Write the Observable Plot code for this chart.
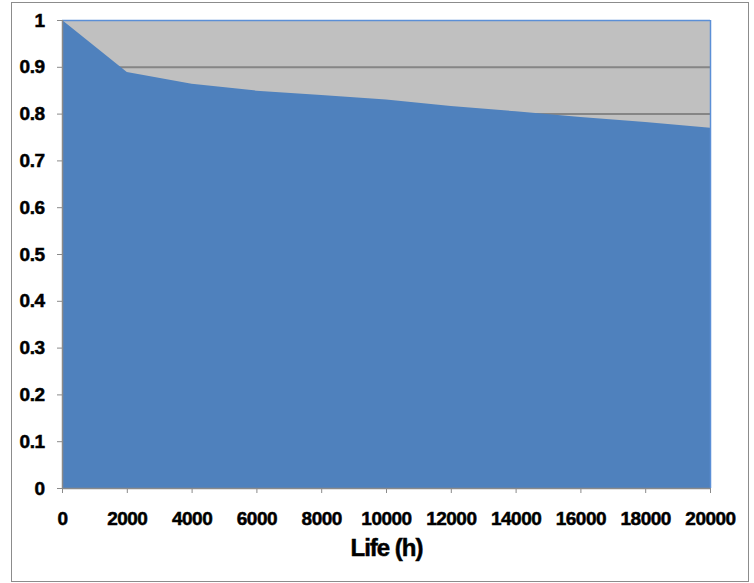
<!DOCTYPE html>
<html>
<head>
<meta charset="utf-8">
<script src="https://cdn.jsdelivr.net/npm/d3@7"></script>
<script src="https://cdn.jsdelivr.net/npm/@observablehq/plot@0.6"></script>
<style>
  html, body { margin: 0; padding: 0; background: #fff; }
  #wrap { position: relative; width: 754px; height: 583px; }
  #border { position: absolute; left: 11px; top: 2px; width: 736px; height: 578px; border: 1px solid #8c8c8c; }
  #chart { position: absolute; left: 0; top: 0; }
</style>
</head>
<body>
<div id="wrap"><div id="border"></div><div id="chart"></div></div>
<script>
const lifeHours = [0, 2000, 4000, 6000, 8000, 10000, 12000, 14000, 16000, 18000, 20000];
const retention = [1.0, 0.889, 0.864, 0.849, 0.840, 0.830, 0.816, 0.805, 0.793, 0.782, 0.770];
const yTicks = [0, 0.1, 0.2, 0.3, 0.4, 0.5, 0.6, 0.7, 0.8, 0.9, 1];
const xTicks = [0, 2000, 4000, 6000, 8000, 10000, 12000, 14000, 16000, 18000, 20000];
const xTitle = "Life (h)";

const data = lifeHours.map((h, i) => ({h, v: retention[i]}));
const font = "Liberation Sans, Arial, sans-serif";

const plot = Plot.plot({
  width: 754,
  height: 583,
  marginLeft: 62,
  marginRight: 44,
  marginTop: 20,
  marginBottom: 95,
  style: {background: "transparent", fontFamily: font, overflow: "visible"},
  x: {domain: [0, 20000], label: null},
  y: {domain: [0, 1], label: null},
  marks: [
    Plot.frame({fill: "#C0C0C0", stroke: null}),
    Plot.ruleY(yTicks.filter(d => d > 0 && d < 1), {stroke: "#858585", strokeWidth: 2}),
    Plot.areaY(data, {x: "h", y: "v", fill: "#4F81BD", curve: "linear"}),
    Plot.ruleY([1], {stroke: "#5B8FD6", strokeWidth: 1.5}),
    Plot.ruleX([20000], {stroke: "#5B8FD6", strokeWidth: 1.5}),
    Plot.ruleX([0], {stroke: "#8a8a8a", strokeWidth: 1.5}),
    Plot.ruleY([0], {stroke: "#8a8a8a", strokeWidth: 1.5}),
    Plot.axisY({ticks: yTicks, tickSize: 5, tickPadding: 13, stroke: "#8a8a8a", fill: "#000",
      tickFormat: d => String(+d.toFixed(1)), fontSize: 19, fontWeight: "bold", label: null}),
    Plot.axisX({ticks: xTicks, tickSize: 5, tickPadding: 18, stroke: "#8a8a8a", fill: "#000",
      tickFormat: d => String(d), fontSize: 19, fontWeight: "bold", label: null}),
    Plot.text([xTitle], {frameAnchor: "bottom", dy: 67, fontSize: 24, fontWeight: "bold", fill: "#000"})
  ]
});
plot.querySelectorAll("text").forEach(t => {
  const isTitle = t.textContent === xTitle;
  t.style.letterSpacing = isTitle ? "-1px" : "-0.5px";
  t.setAttribute("stroke", "#000");
  t.setAttribute("stroke-width", "0.5");
});
document.getElementById("chart").appendChild(plot);
</script>
</body>
</html>
